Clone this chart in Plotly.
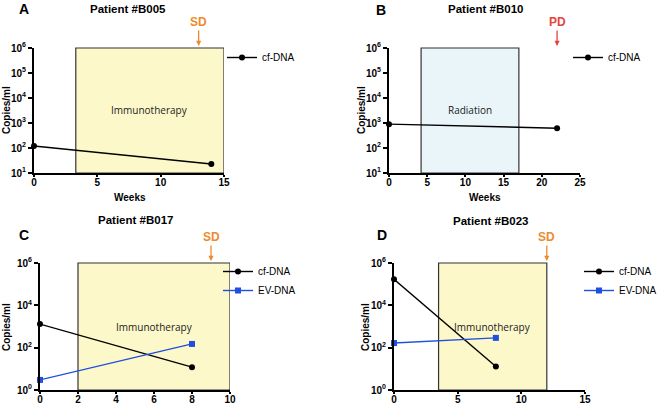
import plotly.graph_objects as go

# ---------------- data ----------------
weeks_A = [0, 14]
cf_A = [120, 23]
weeks_B = [0, 22]
cf_B = [900, 620]
weeks_C = [0, 8]
cf_C = [1300, 12]
ev_C = [3, 150]
weeks_D = [0, 8]
cf_D = [170000, 13]
ev_D = [165, 290]

titles = ["Patient #B005", "Patient #B010", "Patient #B017", "Patient #B023"]
letters = ["A", "B", "C", "D"]
therapy = ["Immunotherapy", "Radiation", "Immunotherapy", "Immunotherapy"]
therapy_start = [3.3, 4.2, 2.0, 3.5]
therapy_end = [15, 17, 10, 12]
response = ["SD", "PD", "SD", "SD"]
response_week = [13, 22, 9, 12]
xmax = [15, 25, 10, 15]
xdtick = [5, 5, 2, 5]
ylog_range = [(1, 6), (1, 6), (0, 6), (0, 6)]
ylog_dtick = [1, 1, 2, 2]

W, H = 658, 404
BOLD = "Liberation Sans"
ORANGE = "#EE8A2E"
RED = "#E5443F"
BLUE = "#1E4FE0"

# pixel layout of each plot area: (left, right, top, bottom)
boxes = [(34, 224, 48, 173), (389, 580, 48, 173), (40, 230, 263, 390), (394, 585, 263, 390)]

def px(x):
    return x / W

def py(y):
    return 1 - y / H

fig = go.Figure()

series = [
    [(weeks_A, cf_A, "cf-DNA", "black", "circle")],
    [(weeks_B, cf_B, "cf-DNA", "black", "circle")],
    [(weeks_C, cf_C, "cf-DNA", "black", "circle"), (weeks_C, ev_C, "EV-DNA", BLUE, "square")],
    [(weeks_D, cf_D, "cf-DNA", "black", "circle"), (weeks_D, ev_D, "EV-DNA", BLUE, "square")],
]

legend_pos = [(222, 43), (568, 43), (218, 257), (579, 257)]

annotations = []
shapes = []
for i in range(4):
    n = "" if i == 0 else str(i + 1)
    xa, ya = "x" + n, "y" + n
    l, r, t, b = boxes[i]
    lg = "legend" if i == 0 else "legend" + str(i + 1)
    for (xs, ys, name, col, sym) in series[i]:
        fig.add_trace(go.Scatter(
            x=xs, y=ys, name=name, mode="lines+markers",
            line=dict(color=col, width=1.4),
            marker=dict(color=col, symbol=sym, size=6),
            xaxis=xa, yaxis=ya, legend=lg, cliponaxis=False,
        ))
    lo, hi = ylog_range[i]
    tv = list(range(lo, hi + 1, ylog_dtick[i]))
    fig.update_layout(**{
        "xaxis" + n: dict(
            domain=[px(l), px(r)], anchor=ya, range=[0, xmax[i]], dtick=xdtick[i],
            automargin=False,
            showgrid=False, zeroline=False, showline=True, linecolor="black", linewidth=2,
            ticks="outside", ticklen=2, tickwidth=1.5, tickcolor="black", ticklabelstandoff=-3,
            tickfont=dict(family=BOLD, size=10, color="black", weight="bold"),
        ),
        "yaxis" + n: dict(
            domain=[py(b), py(t)], anchor=xa, type="log", range=[lo, hi],
            automargin=False,
            tickvals=[10 ** k for k in tv], ticktext=["<b>10<sup>%d</sup></b>" % k for k in tv],
            showgrid=False, zeroline=False, showline=True, linecolor="black", linewidth=2,
            ticks="outside", ticklen=4, tickwidth=1.5, tickcolor="black",
            tickfont=dict(family=BOLD, size=10, color="black"),
        ),
        lg: dict(x=px(legend_pos[i][0]), y=py(legend_pos[i][1]), xanchor="left", yanchor="top",
                 bgcolor="rgba(0,0,0,0)", font=dict(family=BOLD, size=10, color="black"),
                 tracegroupgap=0, itemwidth=30),
    })
    fill = "#E9F5F8" if therapy[i] == "Radiation" else "#FDF8C9"
    shapes.append(dict(type="rect", xref=xa, yref=ya + " domain", x0=therapy_start[i], x1=therapy_end[i],
                       y0=0, y1=1, fillcolor=fill, line=dict(color="#333333", width=1.2), layer="below"))
    annotations.append(dict(xref=xa, yref=ya + " domain", x=(therapy_start[i] + therapy_end[i]) / 2, y=0.5,
                            text=therapy[i], showarrow=False,
                            font=dict(family="Open Sans", size=10, color="#222222")))
    rc = RED if response[i] == "PD" else ORANGE
    annotations.append(dict(xref=xa, yref=ya + " domain", x=response_week[i], y=1.0, yshift=2,
                            text="<b>%s</b>" % response[i], showarrow=True, ax=0, ay=-24,
                            arrowhead=2, arrowsize=0.8, arrowwidth=1.3, arrowcolor=rc,
                            font=dict(family=BOLD, size=12, color=rc)))

title_pos = [(128, 9), (485, 9), (135, 220), (490, 221)]
letter_pos = [(24, 9), (381, 10), (24, 235), (382, 235)]
ytitle_pos = [(6, 110), (361, 110), (6, 327), (365, 327)]
xtitle_pos = [(130, 197), (485, 197)]
for i in range(4):
    annotations.append(dict(xref="paper", yref="paper", x=px(title_pos[i][0]), y=py(title_pos[i][1]),
                            text="<b>%s</b>" % titles[i], showarrow=False, xanchor="center", yanchor="middle",
                            font=dict(family=BOLD, size=11.5, color="black")))
    annotations.append(dict(xref="paper", yref="paper", x=px(letter_pos[i][0]), y=py(letter_pos[i][1]),
                            text="<b>%s</b>" % letters[i], showarrow=False, xanchor="center", yanchor="middle",
                            font=dict(family=BOLD, size=14, color="black")))
    annotations.append(dict(xref="paper", yref="paper", x=px(ytitle_pos[i][0]), y=py(ytitle_pos[i][1]),
                            text="<b>Copies/ml</b>", showarrow=False, xanchor="center", yanchor="middle",
                            textangle=-90, font=dict(family=BOLD, size=10, color="black")))
for (xx, yy) in xtitle_pos:
    annotations.append(dict(xref="paper", yref="paper", x=px(xx), y=py(yy),
                            text="<b>Weeks</b>", showarrow=False, xanchor="center", yanchor="middle",
                            font=dict(family=BOLD, size=10, color="black")))

fig.update_layout(
    width=W, height=H, margin=dict(l=0, r=0, t=0, b=0, autoexpand=False),
    paper_bgcolor="white", plot_bgcolor="rgba(0,0,0,0)",
    showlegend=True, shapes=shapes, annotations=annotations,
)
fig.write_html("out.html", config={"displayModeBar": False},
               post_script="document.body.style.margin='0';document.body.style.overflow='hidden';")
